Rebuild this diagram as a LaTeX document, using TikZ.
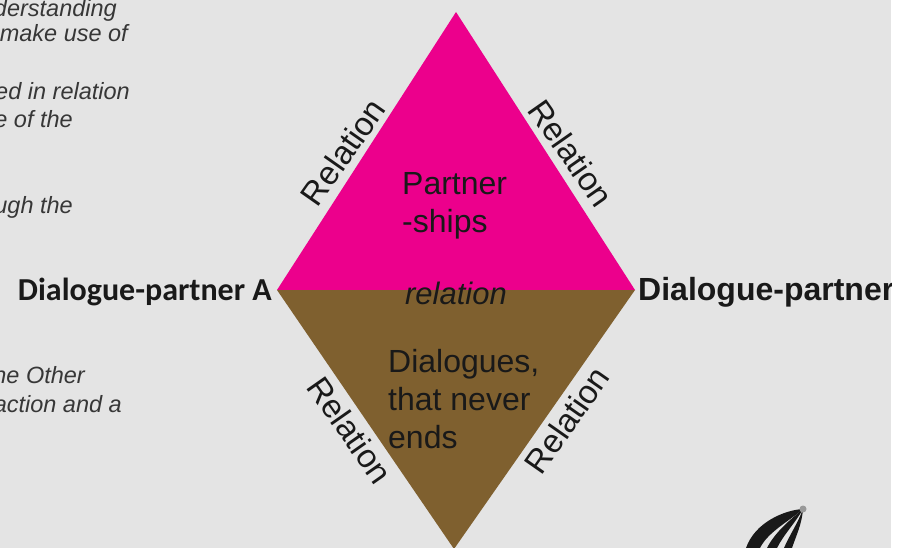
\documentclass[tikz,border=0pt]{standalone}
\usepackage{fontspec}
\setmainfont{Liberation Sans}
\newfontfamily\calfont{Carlito}
\definecolor{bgGrey}{RGB}{228,228,228}
\definecolor{pinkTri}{RGB}{236,0,140}
\definecolor{brownTri}{RGB}{127,96,47}
\definecolor{sideText}{RGB}{55,55,55}
\definecolor{labText}{RGB}{25,25,25}
\begin{document}
\begin{tikzpicture}[x=1pt,y=-1pt,
  sidetxt/.style={anchor=base east,inner sep=0pt,text=sideText,font=\fontsize{23.5}{26}\selectfont\itshape},
  partner/.style={inner sep=0pt,text=labText,font=\calfont\bfseries\fontsize{32}{38}\selectfont},
  partnerb/.style={inner sep=0pt,text=labText,font=\bfseries\fontsize{32}{38}\selectfont},
  reltxt/.style={inner sep=0pt,text=labText,font=\fontsize{33}{38}\selectfont},
  inner/.style={inner sep=0pt,text=labText,align=left,font=\fontsize{32}{38}\selectfont},
  logo/.style={fill=black!90,draw=none}]
\useasboundingbox (0,0) rectangle (901,548);
\fill[white] (0,0) rectangle (901,548);
\begin{scope}
\clip (0,0) rectangle (891,548);
\fill[bgGrey] (0,0) rectangle (891,548);
% left text fragments
\node[sidetxt] (s1) at (117,17) {derstanding};
\node[sidetxt] (s2) at (128,42) {make use of};
\node[sidetxt] (s3) at (130,100) {ed in relation};
\node[sidetxt] (s4) at (73,128) {e of the};
\node[sidetxt] (s5) at (73,213) {ugh the};
\node[sidetxt] (s6) at (85,383) {he Other};
\node[sidetxt] (s7) at (122,412) {action and a};
% diamond
\coordinate (top) at (456,12);
\coordinate (lft) at (277,290);
\coordinate (rgt) at (635,290);
\coordinate (bot) at (454,549);
\fill[pinkTri] (lft) -- (top) -- (rgt) -- cycle;
\fill[brownTri] (lft) -- (rgt) -- (bot) -- cycle;
% labels
\node[partner,anchor=base east] (pa) at (272,300) {Dialogue-partner A};
\node[partnerb,anchor=base west] (pb) at (638,300) {Dialogue-partner};
\node[inner,anchor=north west] (ps) at (402,172) {Partner\\-ships};
\node[inner,anchor=north west] (dl) at (388,349) {Dialogues,\\that never\\ends};
\node[inner,anchor=center,font=\fontsize{31}{38}\selectfont\itshape] (rel) at (456,293) {relation};
\node[reltxt,rotate=55] (r1) at (343,152) {Relation};
\node[reltxt,rotate=-55] (r2) at (571,153) {Relation};
\node[reltxt,rotate=-55] (r3) at (350,430) {Relation};
\node[reltxt,rotate=55] (r4) at (567,420) {Relation};
% logo
\coordinate (tip) at (803,509);
\fill[logo] (tip) .. controls (785,510) and (755,522) .. (746,548) -- (760,548) .. controls (768,532) and (788,522) .. (tip) -- cycle;
\fill[logo] (tip) .. controls (791,519) and (775,532) .. (767,548) -- (777,548) .. controls (784,534) and (796,522) .. (tip) -- cycle;
\fill[logo] (tip) .. controls (798,523) and (789,536) .. (784,548) -- (792,548) .. controls (796,536) and (802,524) .. (tip) -- cycle;
\fill[black!40] (tip) circle (3.5);
\end{scope}
\end{tikzpicture}
\end{document}
